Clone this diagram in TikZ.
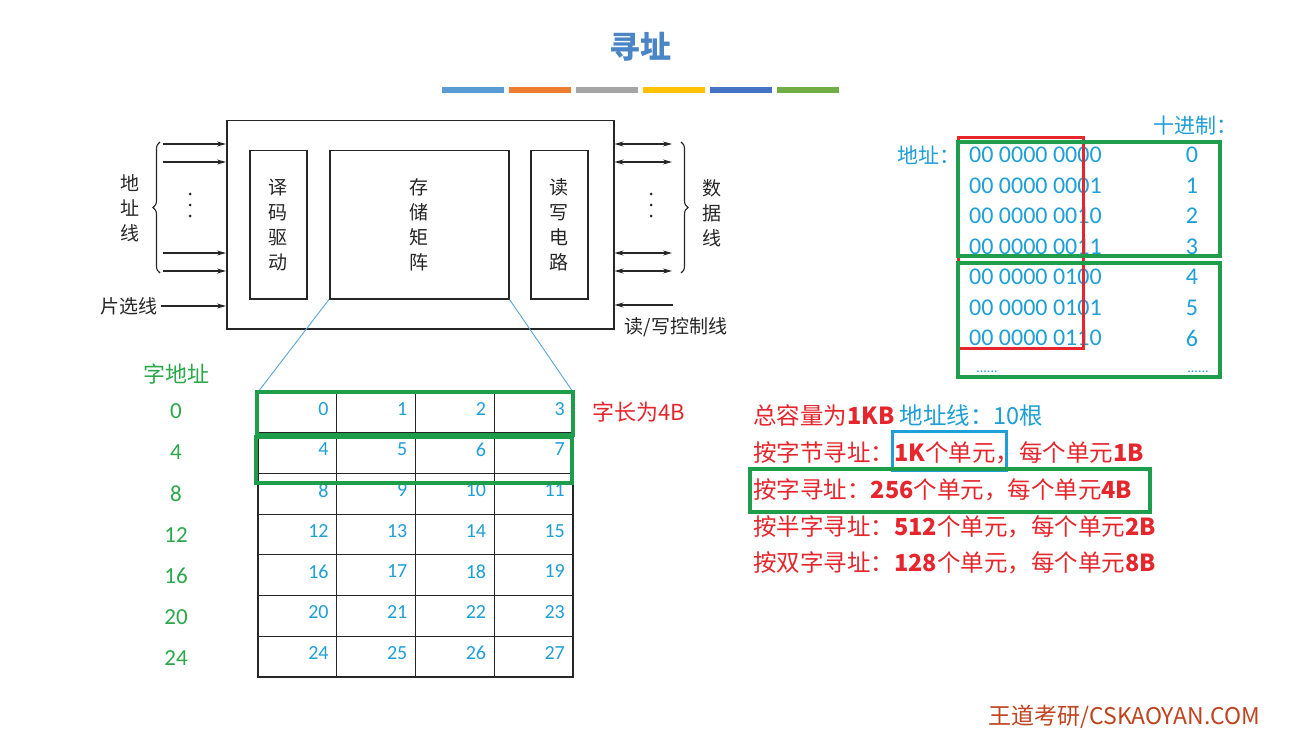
\documentclass[tikz,border=0pt]{standalone}
\usepackage{fontspec}
\setmainfont{Noto Sans CJK SC}
\newfontfamily\numfont{Carlito}
\usetikzlibrary{arrows.meta,decorations.pathreplacing,positioning}

\definecolor{titleblue}{HTML}{4A86C5}
\definecolor{barA}{HTML}{5B9BD5}
\definecolor{barB}{HTML}{ED7D31}
\definecolor{barC}{HTML}{A5A5A5}
\definecolor{barD}{HTML}{FFC000}
\definecolor{barE}{HTML}{4472C4}
\definecolor{barF}{HTML}{70AD47}
\definecolor{addrblue}{HTML}{1F9FD8}
\definecolor{wgreen}{HTML}{1E9E4A}
\definecolor{lblgreen}{HTML}{2BA84A}
\definecolor{hired}{HTML}{E5262C}
\definecolor{zoomblue}{HTML}{5AA6DA}
\definecolor{footred}{HTML}{C0431F}

\tikzset{
  chipbox/.style={draw=black!85, line width=1.5pt, inner sep=0pt, anchor=north west},
  chiptext/.style={font=\fontsize{19}{25}\selectfont, align=center, text=black!85},
  inarrow/.style={-{Stealth[length=9pt,width=5pt]}, line width=1.1pt, black!85},
  bothway/.style={{Stealth[length=9pt,width=5pt]}-{Stealth[length=9pt,width=5pt]}, line width=1.1pt, black!85},
  bracket/.style={decorate, decoration={brace, amplitude=7pt}, line width=1.1pt, black!85},
  cellnum/.style={font=\numfont\fontsize{20}{20}\selectfont, text=addrblue, inner sep=0pt, anchor=north east},
  wordnum/.style={font=\numfont\fontsize{23}{23}\selectfont, text=lblgreen},
  binnum/.style={font=\numfont\fontsize{24}{24}\selectfont, text=addrblue, inner sep=0pt},
  infotext/.style={font=\fontsize{23.5}{23.5}\selectfont, text=hired, anchor=west, inner sep=0pt},
  greenbox/.style={draw=wgreen, line width=3.2pt},
  redbox/.style={draw=hired, line width=3pt},
  bluebox/.style={draw=addrblue, line width=3pt},
  gridline/.style={black!85, line width=1.2pt}
}

\begin{document}
\begin{tikzpicture}[x=1pt,y=-1pt]
  \useasboundingbox (0,0) rectangle (1300,730);
  \fill[white] (0,0) rectangle (1300,730);

  % title and colour bars
  \node[font=\fontsize{31}{31}\selectfont\bfseries, text=titleblue] (title) at (640,47) {寻址};
  \foreach \c [count=\i from 0] in {barA,barB,barC,barD,barE,barF}
    \fill[\c] (442+\i*67,87) rectangle ++(62,6);

  % memory chip
  \node[chipbox, minimum width=387, minimum height=208] (chip) at (226,120) {};
  \node[chipbox, minimum width=57, minimum height=148] (dec) at (249,150) {};
  \node[chipbox, minimum width=179, minimum height=148] (mat) at (329,150) {};
  \node[chipbox, minimum width=57, minimum height=148] (rw) at (530,150) {};
  \node[chiptext] at (dec.center) {译\\码\\驱\\动};
  \node[chiptext] at (mat.center) {存\\储\\矩\\阵};
  \node[chiptext] at (rw.center) {读\\写\\电\\路};

  % address lines
  \foreach \y in {144,162,253,271}
    \draw[inarrow] (163,\y) -- (chip.west |- 0,\y);
  \draw[bracket] (160,273) -- (160,142);
  \node[chiptext] (addrlbl) at (130,208) {地\\址\\线};
  \foreach \d in {-11,0,11}
    \fill[black!85] (190,205+\d) circle (1.5);
  \node[chiptext, anchor=east] (cs) at (161,306) {片选线};
  \draw[inarrow] (cs) -- (chip.west |- cs);

  % data lines
  \foreach \y in {144,162,253,271}
    \draw[bothway] (chip.east |- 0,\y) -- (672,\y);
  \draw[bracket] (681,142) -- (681,273);
  \node[chiptext] (datalbl) at (712,213) {数\\据\\线};
  \foreach \d in {-11,0,11}
    \fill[black!85] (651,205+\d) circle (1.5);
  \coordinate (rwin) at (673,305);
  \draw[inarrow] (rwin) -- (chip.east |- rwin);
  \node[chiptext] (rwlbl) at (676,327) {读/写控制线};

  % storage matrix
  \def\cw{78.75}
  \def\rh{40.7}
  \coordinate (T) at (258,392);
  \coordinate (Tr) at (573,392);
  \draw[zoomblue, line width=0.9pt] (mat.south west) -- (T);
  \draw[zoomblue, line width=0.9pt] (mat.south east) -- (Tr);
  \draw[gridline] (258,392) rectangle (573,677);
  \foreach \i in {1,2,3}
    \draw[gridline] (258+\i*\cw,392) -- ++(0,285);
  \foreach \j in {1,...,6}
    \draw[gridline] (258,392+\j*\rh) -- ++(315,0);
  \foreach \r in {0,...,6}
    \foreach \c in {0,...,3} {
      \pgfmathtruncatemacro\n{4*\r+\c}
      \node[cellnum] at (250+\c*\cw+\cw,392+\r*\rh+10) {\n};
    }
  \draw[greenbox] (257,392) rectangle (573,435);
  \draw[greenbox] (256,437) rectangle (572,483);

  % word addresses
  \node[font=\fontsize{22}{22}\selectfont, text=lblgreen] (wlbl) at (176,374) {字地址};
  \foreach \v [count=\i from 0] in {0,4,...,24}
    \node[wordnum] at (176,411+\i*41.2) {\v};
  \node[font=\fontsize{22}{22}\selectfont, text=hired] (wlen) at (639,412) {字长为4B};

  % binary addresses
  \node[font=\fontsize{21}{21}\selectfont, text=addrblue, anchor=west, inner sep=0pt] (addr) at (897,155) {地址：};
  \node[font=\fontsize{21}{21}\selectfont, text=addrblue, anchor=west, inner sep=0pt] (dec10) at (1153,126) {十进制：};
  \foreach \b [count=\k from 0] in {00 0000 0000,00 0000 0001,00 0000 0010,00 0000 0011,00 0000 0100,00 0000 0101,00 0000 0110} {
    \node[binnum, anchor=west] at (969,155+\k*30.5) {\b};
    \node[binnum] at (1192,155+\k*30.5) {\k};
  }
  \node[font=\numfont\fontsize{14}{14}\selectfont, text=addrblue] at (987,372) {......};
  \node[font=\numfont\fontsize{14}{14}\selectfont, text=addrblue] at (1198,372) {......};
  \draw[redbox] (958,138) rectangle (1083,348);
  \draw[greenbox] (958,142) rectangle (1220,256);
  \draw[greenbox] (958,263) rectangle (1220,377);

  % capacity notes
  \node[infotext] (l1) at (753,415) {总容量为\textbf{1KB} \textcolor{addrblue}{地址线：10根}};
  \node[infotext] (l2) at (753,453) {按字节寻址：\textbf{1K}个单元，每个单元\textbf{1B}};
  \node[infotext] (l3) at (753,490) {按字寻址：\textbf{256}个单元，每个单元\textbf{4B}};
  \node[infotext] (l4) at (753,527) {按半字寻址：\textbf{512}个单元，每个单元\textbf{2B}};
  \node[infotext] (l5) at (753,563) {按双字寻址：\textbf{128}个单元，每个单元\textbf{8B}};
  \draw[bluebox] (892,431) rectangle (1006,470);
  \draw[greenbox] (750,469) rectangle (1150,512);

  % footer
  \node[font=\fontsize{23}{23}\selectfont, text=footred, anchor=east] (foot) at (1264,717) {王道考研/CSKAOYAN.COM};
\end{tikzpicture}
\end{document}
